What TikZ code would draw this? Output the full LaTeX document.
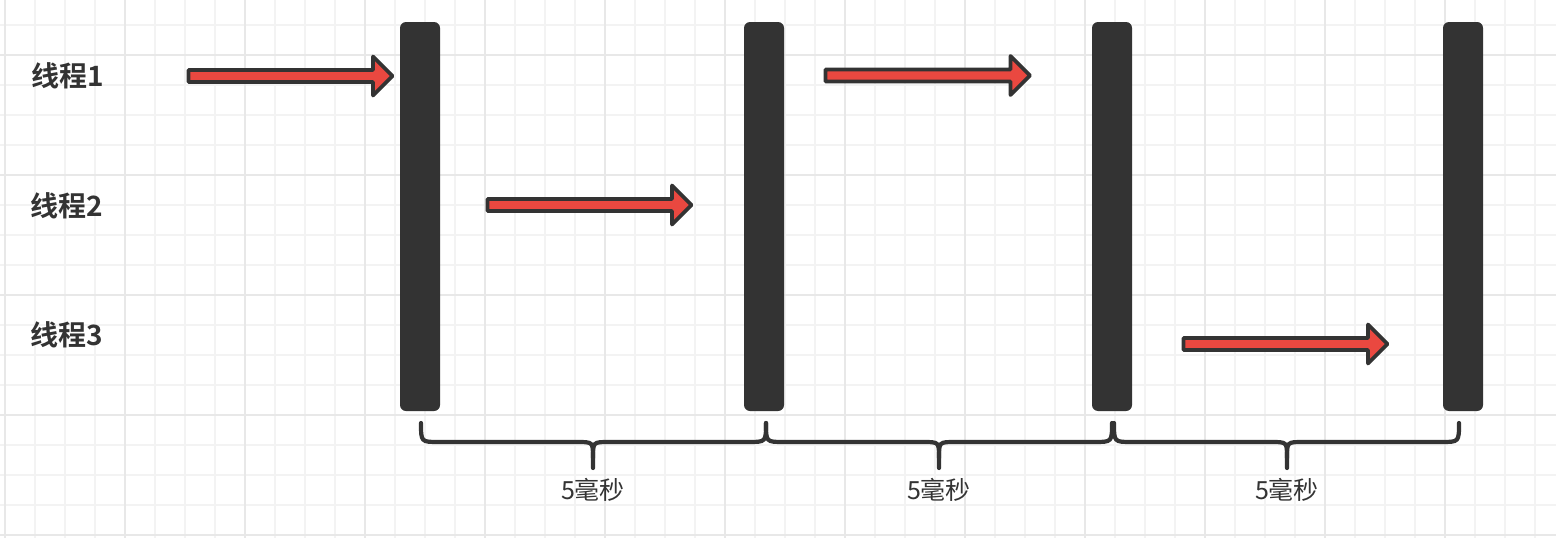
\documentclass[tikz,border=0pt]{standalone}
\usepackage{fontspec}
\newfontfamily\cjk{Noto Sans CJK SC}
\newfontfamily\cjkb{Noto Sans CJK SC Bold}
\definecolor{dark}{HTML}{333333}
\definecolor{arrred}{HTML}{EA4840}
\definecolor{gridminor}{HTML}{F3F3F3}
\definecolor{gridmajor}{HTML}{E8E8E8}
\newcommand{\blkarrow}[3]{%
  \draw[blockarrow] (#1,#3-6) -- (#2-19.5,#3-6) -- (#2-19.5,#3-19.5) -- (#2,#3)
    -- (#2-19.5,#3+19.5) -- (#2-19.5,#3+6) -- (#1,#3+6) -- cycle;}
\newcommand{\timebrace}[4]{%
  \draw[bracestyle] (#1,423) .. controls (#1,442) .. (#1+18,442) -- (#3-16,442)
    .. controls (#3,442) .. (#3,458) -- (#3,468);
  \draw[bracestyle] (#2,423) .. controls (#2,442) .. (#2-18,442) -- (#3+16,442)
    .. controls (#3,442) .. (#3,458);
  \node[bracelabel] (#4) at (#3,490) {5毫秒};}
\begin{document}
\begin{tikzpicture}[x=1pt,y=-1pt,
  bar/.style={fill=dark,draw=none,rounded corners=6pt,minimum width=40pt,minimum height=389pt,inner sep=0pt},
  blockarrow/.style={draw=dark,fill=arrred,line width=3.8pt,line join=round},
  bracestyle/.style={draw=dark,line width=4.2pt,line cap=round},
  thread/.style={font=\cjkb\fontsize{28}{32}\selectfont,text=dark,anchor=west,inner sep=0pt},
  bracelabel/.style={font=\cjk\fontsize{25}{30}\selectfont,text=dark,inner sep=0pt}]
\useasboundingbox (0,0) rectangle (1556,538);
\fill[white] (0,0) rectangle (1556,538);
% grid
\foreach \x in {5,35,...,1555} \draw[gridminor,line width=1.3pt] (\x,0) -- (\x,538);
\foreach \y in {25,55,...,535} \draw[gridminor,line width=1.3pt] (0,\y) -- (1556,\y);
\foreach \x in {5,125,...,1445} \draw[gridmajor,line width=1.8pt] (\x,0) -- (\x,538);
\foreach \y in {55,175,...,535} \draw[gridmajor,line width=1.8pt] (0,\y) -- (1556,\y);
% bars
\node[bar] (b1) at (420,216.5) {};
\node[bar] (b2) at (764,216.5) {};
\node[bar] (b3) at (1112,216.5) {};
\node[bar] (b4) at (1463,216.5) {};
% thread labels
\node[thread] (t1) at (31,76) {线程1};
\node[thread] (t2) at (30,206) {线程2};
\node[thread] (t3) at (30,335) {线程3};
% arrows
\blkarrow{188.5}{392.5}{76}
\blkarrow{487.5}{691.5}{205}
\blkarrow{825.5}{1030}{75.5}
\blkarrow{1183.5}{1387.5}{344}
% braces
\timebrace{421}{766}{593}{d1}
\timebrace{766}{1112}{939}{d2}
\timebrace{1114}{1459}{1287}{d3}
\end{tikzpicture}
\end{document}
